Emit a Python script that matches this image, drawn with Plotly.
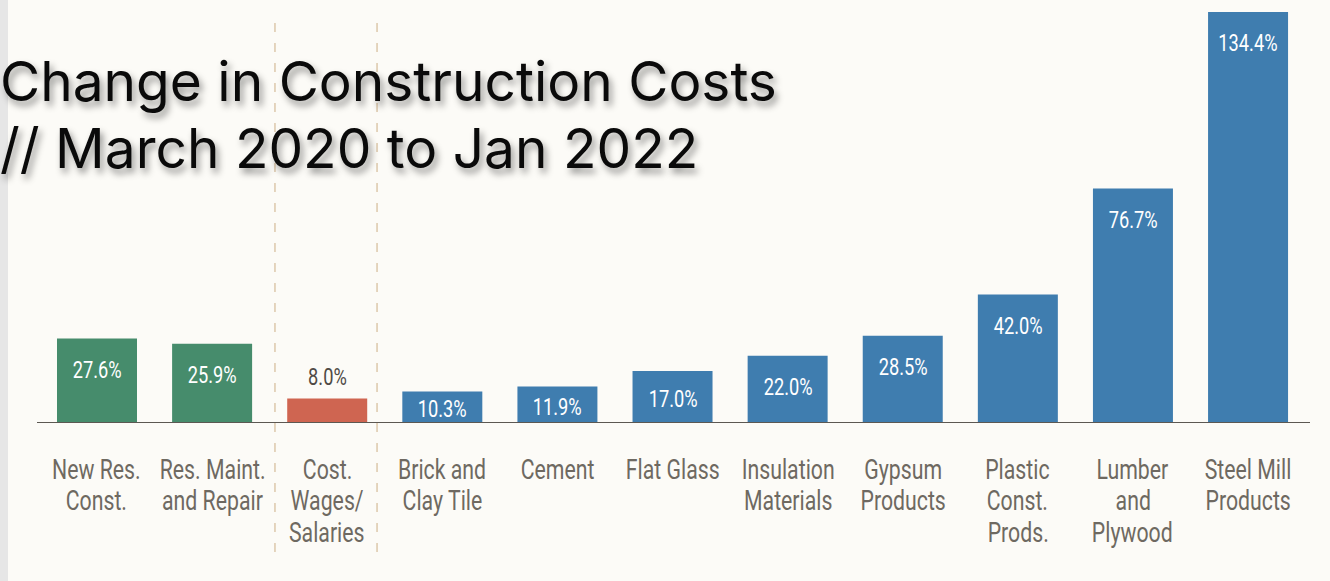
import plotly.graph_objects as go

categories = ["New Res.<br>Const.", "Res. Maint.<br>and Repair", "Cost.<br>Wages/<br>Salaries",
              "Brick and<br>Clay Tile", "Cement", "Flat Glass", "Insulation<br>Materials",
              "Gypsum<br>Products", "Plastic<br>Const.<br>Prods.", "Lumber<br>and<br>Plywood",
              "Steel Mill<br>Products"]
values = [27.6, 25.9, 8.0, 10.3, 11.9, 17.0, 22.0, 28.5, 42.0, 76.7, 134.4]
groups = ["res", "res", "wage", "mat", "mat", "mat", "mat", "mat", "mat", "mat", "mat"]
group_colors = {"res": "#468c6c", "wage": "#cf6551", "mat": "#3f7daf"}
title_text = "Change in Construction Costs<br>// March 2020 to Jan 2022"

COND = "Roboto, sans-serif"
LABEL_GRAY = "#6e6961"
BASE = (581 - 423) / 581  # paper y of zero line
Y_MAX = 134.4

x = list(range(len(categories)))
fig = go.Figure()
fig.add_trace(go.Bar(
    x=x, y=values, width=0.695,
    marker=dict(color=[group_colors[g] for g in groups], line=dict(width=0)),
    hoverinfo="skip", showlegend=False,
))

annotations = []
# value labels
for xi, v, g in zip(x, values, groups):
    txt = f"{v:.1f}%"
    if g == "wage":
        annotations.append(dict(x=xi, y=v, text=txt, showarrow=False, yanchor="bottom", yshift=6,
                                font=dict(family=COND, size=24, color="#4f4a45")))
    else:
        ypos = v - min(10.2, v / 2 + 0.65)
        annotations.append(dict(x=xi, y=ypos, text=txt, showarrow=False, yanchor="middle",
                                font=dict(family=COND, size=24, color="white")))

# category labels, one annotation per line for tight line spacing
for xi, cat in zip(x, categories):
    for i, line in enumerate(cat.split("<br>")):
        annotations.append(dict(x=xi, xref="x", y=BASE, yref="paper", text=line, showarrow=False,
                                yanchor="middle", yshift=-(47 + 31 * i),
                                font=dict(family=COND, size=28, color=LABEL_GRAY)))

# title (single text; line spacing tightened in post script)
annotations.append(dict(
    xref="paper", yref="paper", x=0, y=1, xanchor="left", yanchor="top",
    xshift=-2, yshift=-46, showarrow=False, text=title_text, align="left",
    font=dict(family="Inter, sans-serif", size=55, color="#0a0a0a",
              shadow="3px 5px 7px rgba(0,0,0,0.42)"),
))

shapes = [
    dict(type="rect", xref="paper", yref="paper", x0=0, x1=0.006, y0=0, y1=1,
         fillcolor="#e6e6e6", line=dict(width=0), layer="below"),
]
for xd in [1.546, 2.433]:
    shapes.append(dict(type="line", xref="x", yref="paper", x0=xd, x1=xd,
                       y0=(581 - 552) / 581, y1=(581 - 15) / 581,
                       line=dict(color="#dcc8ab", width=1.5, dash="9px,11px"), layer="below"))
shapes.append(dict(type="line", xref="paper", yref="y", x0=37 / 1330, x1=1310 / 1330, y0=0, y1=0,
                   line=dict(color="#5c5852", width=2)))

fig.update_layout(
    width=1330, height=581,
    paper_bgcolor="#fcfbf7", plot_bgcolor="rgba(0,0,0,0)",
    margin=dict(l=0, r=0, t=0, b=0),
    xaxis=dict(domain=[0.02966, 0.98166], range=[-0.5, 10.5], showticklabels=False,
               showgrid=False, zeroline=False, showline=False, ticks=""),
    yaxis=dict(domain=[BASE, (581 - 12) / 581], range=[0, Y_MAX], visible=False,
               showgrid=False, zeroline=False),
    annotations=annotations, shapes=shapes, bargap=0.3,
)

post = """
document.body.style.margin='0';
document.body.style.overflow='hidden';
var gd = document.querySelector('.plotly-graph-div');
function tweak(){
  gd.querySelectorAll('text.annotation-text').forEach(function(t){
    var st = t.getAttribute('style') || '';
    if (st.indexOf('font-family: Roboto') >= 0) {
      var b = t.getBBox();
      var cx = b.x + b.width/2;
      t.setAttribute('transform', 'translate('+cx+',0) scale(0.76,1) translate('+(-cx)+',0)');
    } else if (st.indexOf('Inter') >= 0) {
      var lines = t.querySelectorAll('tspan.line');
      for (var i = 1; i < lines.length; i++) lines[i].setAttribute('dy', '1.22em');
    }
  });
}
tweak();
if (gd.on) gd.on('plotly_afterplot', tweak);
"""
fig.write_html("out.html", post_script=post, config={"displayModeBar": False})
